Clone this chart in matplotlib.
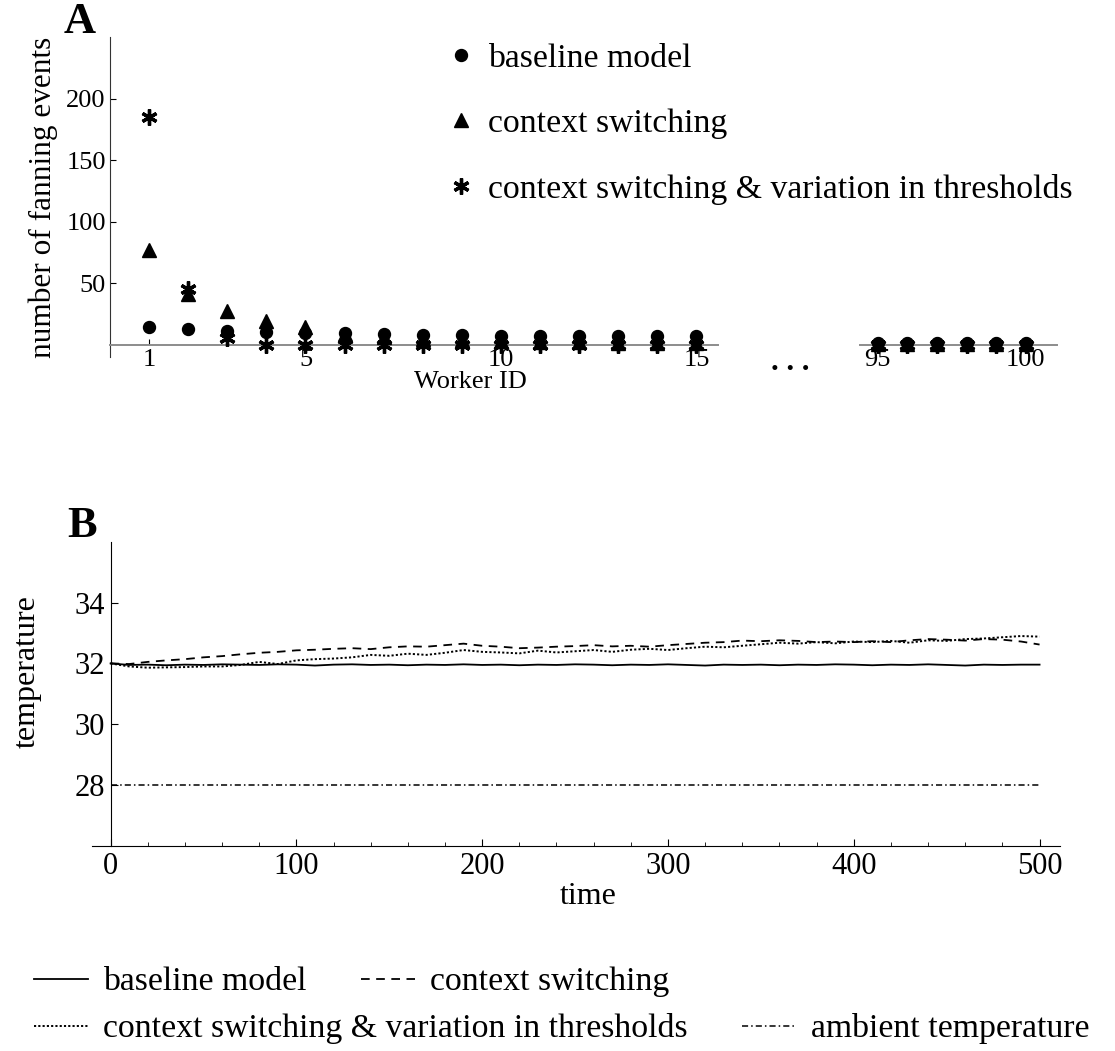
import matplotlib
matplotlib.use('Agg')
import matplotlib.pyplot as plt
from matplotlib.lines import Line2D
from matplotlib.ticker import MultipleLocator

plt.rcParams['font.family'] = ['Liberation Serif', 'DejaVu Serif']

# panel A: fanning events per worker
workers_first = [1, 2, 3, 4, 5, 6, 7, 8, 9, 10, 11, 12, 13, 14, 15]
workers_last = [95, 96, 97, 98, 99, 100]
baseline_first = [14.5, 12.5, 11, 10, 9.5, 9.5, 8.5, 8, 8, 7, 7.2, 7.2, 6.8, 6.8, 6.8]
switching_first = [77, 41, 27, 19.5, 14.5, 8.5, 6, 4.5, 3.5, 3, 2.5, 2, 1.5, 1.5, 1]
thresholds_first = [185, 45, 5.5, 0, 0, 0, 0, 0, 0, 0, 0, 0, 0, 0, 0]
baseline_last = [1, 1, 1, 1, 1, 1]
switching_last = [0.5, 0.5, 0.5, 0.5, 0.5, 0.5]
thresholds_last = [0, 0, 0, 0, 0, 0]
labels_a = ['baseline model', 'context switching', 'context switching & variation in thresholds']

# panel B: temperature over time
time = list(range(0, 501, 10))
temp_baseline = [32.0, 31.95, 31.96, 31.94, 31.96, 31.95, 31.97, 31.96, 31.95, 31.97,
                 31.96, 31.93, 31.96, 31.97, 31.95, 31.96, 31.94, 31.96, 31.95, 31.97,
                 31.95, 31.96, 31.94, 31.96, 31.95, 31.97, 31.96, 31.94, 31.96, 31.95,
                 31.97, 31.95, 31.93, 31.96, 31.95, 31.96, 31.94, 31.96, 31.95, 31.97,
                 31.96, 31.94, 31.96, 31.95, 31.97, 31.95, 31.93, 31.96, 31.95, 31.96, 31.96]
temp_switching = [32.0, 31.98, 32.05, 32.1, 32.14, 32.2, 32.24, 32.3, 32.35, 32.38,
                  32.43, 32.45, 32.48, 32.5, 32.47, 32.53, 32.56, 32.55, 32.6, 32.65,
                  32.58, 32.55, 32.5, 32.52, 32.55, 32.57, 32.6, 32.56, 32.58, 32.55,
                  32.6, 32.64, 32.68, 32.7, 32.75, 32.73, 32.76, 32.74, 32.7, 32.72,
                  32.7, 32.73, 32.7, 32.76, 32.8, 32.78, 32.75, 32.8, 32.78, 32.72, 32.62]
temp_thresholds = [32.0, 31.9, 31.86, 31.87, 31.88, 31.9, 31.9, 31.95, 32.05, 31.98,
                   32.1, 32.14, 32.16, 32.2, 32.28, 32.25, 32.32, 32.28, 32.35, 32.44,
                   32.38, 32.36, 32.33, 32.42, 32.36, 32.4, 32.44, 32.38, 32.45, 32.48,
                   32.44, 32.5, 32.55, 32.53, 32.58, 32.63, 32.68, 32.65, 32.7, 32.66,
                   32.72, 32.7, 32.74, 32.68, 32.76, 32.74, 32.8, 32.82, 32.86, 32.9, 32.88]
ambient_time = [0, 500]
ambient_temp = [28, 28]
labels_b = ['baseline model', 'context switching',
            'context switching & variation in thresholds', 'ambient temperature']

W, H = 1115, 1051


def px_rect(x0, y0, x1, y1):
    # pixel box (top-left origin) -> figure fraction rect
    return [x0 / W, 1 - y1 / H, (x1 - x0) / W, (y1 - y0) / H]


fig = plt.figure(figsize=(W / 100, H / 100), dpi=100)

# styles
star = (6, 2, 0)
mk = {'o': dict(marker='o', ms=8.6), '^': dict(marker='^', ms=9.5), '*': dict(marker=star, ms=11.5, mew=2.4)}
axis_grey = '#8c8c8c'
tick_a = 19
tick_b = 22
legend_size = 24.3

# ---- panel A ----
ax1 = fig.add_axes(px_rect(110, 37, 718, 357))
ax2 = fig.add_axes(px_rect(860, 37, 1057, 357))
for ax, xs, ys in [(ax1, workers_first, (baseline_first, switching_first, thresholds_first)),
                   (ax2, workers_last, (baseline_last, switching_last, thresholds_last))]:
    ax.plot(xs, ys[1], ls='none', color='black', **mk['^'], zorder=3)
    ax.plot(xs, ys[0], ls='none', color='black', **mk['o'], zorder=4)
    ax.plot(xs, ys[2], ls='none', color='black', **mk['*'], zorder=5)
    ax.set_ylim(-10, 250)
    ax.spines['top'].set_visible(False)
    ax.spines['right'].set_visible(False)
    ax.spines['bottom'].set_position(('data', 0))
    ax.spines['bottom'].set_color(axis_grey)
    ax.spines['bottom'].set_linewidth(1.4)
    ax.tick_params(direction='in', length=4, width=0.8, labelsize=tick_a, pad=3)
    ax.patch.set_visible(False)

ax1.set_xlim(0, 15.55)
ax1.set_xticks([1, 5, 10, 15])
ax1.set_yticks([50, 100, 150, 200])
ax1.spines['left'].set_color('#333333')
ax1.set_ylabel('number of fanning events', fontsize=22.5, labelpad=6)
ax2.set_xlim(94.4, 101.05)
ax2.set_xticks([95, 100])
ax2.set_yticks([])
ax2.spines['left'].set_visible(False)

fig.text(470 / W, 1 - 382 / H, 'Worker ID', fontsize=19, ha='center', va='center')
fig.text(790 / W, 1 - 362 / H, '. . .', fontsize=22, fontweight='bold', ha='center', va='center')
fig.text(80 / W, 1 - 22 / H, 'A', fontsize=32, fontweight='bold', ha='center', va='center')

handles_a = [Line2D([], [], ls='none', color='black', **mk[m]) for m in ['o', '^', '*']]
fig.legend(handles_a, labels_a, loc='upper left', bbox_to_anchor=(444 / W, 1 - 43 / H),
           frameon=False, fontsize=legend_size, handlelength=1.0, handletextpad=0.3,
           labelspacing=1.03, borderpad=0, borderaxespad=0)

# ---- panel B ----
styles_b = [dict(ls='-', lw=1.3), dict(ls=(0, (4.8, 3.6)), lw=1.3),
            dict(ls=(0, (1.1, 1.1)), lw=1.4), dict(ls=(0, (4, 2, 1, 2)), lw=1.1)]
ax3 = fig.add_axes(px_rect(92, 541.7, 1060, 846))
ax3.plot(time, temp_baseline, color='black', **styles_b[0])
ax3.plot(time, temp_switching, color='black', **styles_b[1])
ax3.plot(time, temp_thresholds, color='black', **styles_b[2])
ax3.plot(ambient_time, ambient_temp, color='black', **styles_b[3])
ax3.set_xlim(-10, 511)
ax3.set_ylim(26, 36)
ax3.spines['top'].set_visible(False)
ax3.spines['right'].set_visible(False)
ax3.spines['left'].set_position(('data', 0))
ax3.set_xticks([0, 100, 200, 300, 400, 500])
ax3.xaxis.set_minor_locator(MultipleLocator(20))
ax3.set_yticks([28, 30, 32, 34])
ax3.tick_params(which='major', direction='in', length=5, width=0.8, labelsize=tick_b, pad=4)
ax3.tick_params(which='minor', direction='in', length=3, width=0.6)
ax3.patch.set_visible(False)
fig.text(588 / W, 1 - 896 / H, 'time', fontsize=23, ha='center', va='center')
fig.text(27 / W, 1 - 672 / H, 'temperature', fontsize=23, rotation=90, ha='center', va='center')
fig.text(82 / W, 1 - 526 / H, 'B', fontsize=32, fontweight='bold', ha='center', va='center')

handles_b = [Line2D([], [], color='black', **s) for s in styles_b]
fig.legend(handles_b[:2], labels_b[:2], loc='center left', bbox_to_anchor=(34 / W, 1 - 982 / H),
           ncol=2, frameon=False, fontsize=legend_size, handlelength=1.6, handletextpad=0.45,
           columnspacing=1.6, borderpad=0, borderaxespad=0)
fig.legend(handles_b[2:], labels_b[2:], loc='center left', bbox_to_anchor=(34 / W, 1 - 1029 / H),
           ncol=2, frameon=False, fontsize=legend_size, handlelength=1.6, handletextpad=0.45,
           columnspacing=1.6, borderpad=0, borderaxespad=0)

fig.savefig('out.png', dpi=100)
